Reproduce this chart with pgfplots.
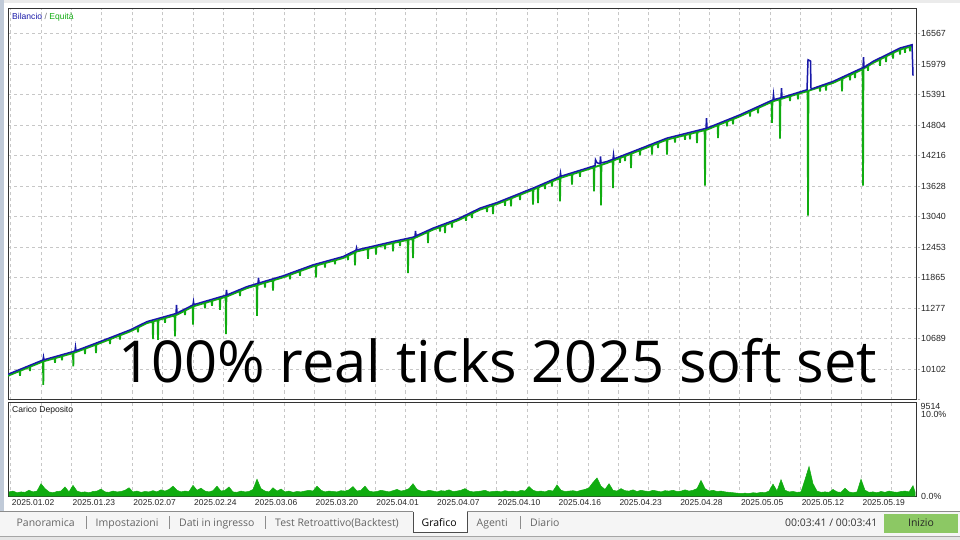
\documentclass[border=0pt]{standalone}
\usepackage{pgfplots}
\pgfplotsset{compat=1.18}
\usepackage{fontspec}
\setmainfont{Liberation Sans}
\newfontfamily\opensans{Open Sans}
\definecolor{bal}{RGB}{24,24,168}
\definecolor{eq}{RGB}{16,172,16}
\definecolor{tabtxt}{RGB}{100,100,100}
\definecolor{btn}{RGB}{140,200,100}
\definecolor{sidestrip}{RGB}{192,202,216}
\pgfplotsset{
  mtpanel/.style={
    scale only axis, width=908bp,
    xmin=8, xmax=916,
    axis line style={draw=black!80, line width=1bp},
    xtick={10.7,41.08,71.46,101.84,132.22,162.6,192.98,223.36,253.74,284.12,314.5,344.88,375.26,405.64,436.02,466.4,496.78,527.16,557.54,587.92,618.3,648.68,679.06,709.44,739.82,770.2,800.58,830.96,861.34,891.72},
    xmajorgrids,
    grid style={draw=black!22, dash pattern=on 3bp off 3bp, line width=0.7bp},
    tick align=outside,
    ytick pos=right, yticklabel pos=right,
    xtick pos=bottom,
    xtick style={draw=none},
    major tick length=4bp,
    scaled ticks=false,
    yticklabel style={font=\fontsize{8.9}{10}\selectfont, inner sep=1bp, text=black!85},
  }
}
\begin{document}
\begin{tikzpicture}
\begin{scope}[x=1bp,y=-1bp]
\fill[white] (0,0) rectangle (960,540);
\path[use as bounding box] (0,0) rectangle (960,540);
\fill[black!8] (0,0) rectangle (960,3);
\fill[sidestrip] (0,0) rectangle (4,511);
% tab bar
\fill[black!4] (0,512) rectangle (960,536);
\fill[black!10] (0,536) rectangle (960,540);
\draw[black!35, line width=0.8bp] (0,536) -- (960,536);
\draw[black!45, line width=1bp] (0,511.5) -- (413,511.5);
\draw[black!45, line width=1bp] (467,511.5) -- (960,511.5);
\fill[white] (413,511.5) rectangle (467,532);
\draw[black!70, line width=1bp] (413,511.5) -- (413,532) -- (467,532) -- (467,511.5);
\foreach \xx in {86,169.5,265.7,520.7} \draw[black!45, line width=0.8bp] (\xx,516) -- (\xx,529);
\begin{scope}[every node/.style={anchor=base west, inner sep=0, font=\opensans\fontsize{10.5}{12}\selectfont}]
\node[text=tabtxt] at (16.5,526) {Panoramica};
\node[text=tabtxt] at (95.5,526) {Impostazioni};
\node[text=tabtxt] at (179,526) {Dati in ingresso};
\node[text=tabtxt] at (275,526) {Test Retroattivo(Backtest)};
\node[text=black] at (421.5,526) {Grafico};
\node[text=tabtxt] at (476.5,526) {Agenti};
\node[text=tabtxt] at (530,526) {Diario};
\node[text=black!80] at (785,526) {00:03:41 / 00:03:41};
\end{scope}
\fill[btn] (884,513.5) rectangle (958,532.5);
\node[anchor=base, inner sep=0, font=\opensans\fontsize{10.5}{12}\selectfont, text=black!85] at (921,526.5) {Inizio};
\end{scope}

% ---------- main panel: balance / equity ----------
\begin{axis}[mtpanel,
  at={(8bp,-9bp)}, anchor=north west, height=390.5bp,
  ymin=9514, ymax=17045,
  ymajorgrids,
  xticklabel={\relax},
  ytick style={draw=black!30, dash pattern=on 2bp off 1.5bp, line width=0.7bp},
  ytick={9514,10102,10689,11277,11865,12453,13040,13628,14216,14804,15391,15979,16567},
  yticklabels={{},10102,10689,11277,11865,12453,13040,13628,14216,14804,15391,15979,16567},
]
\addplot[eq, line width=1.8bp, yshift=-1.5bp] table {
x y
8 10000
19.6 10092
20 10000
20.4 10098
29.6 10171
30 10090
30.4 10177
43 10276
43.3 9827
43.6 10280
54.6 10338
55 10250
55.4 10342
61.6 10376
62 10300
62.4 10380
73 10437
73.3 10180
73.6 10441
84.6 10520
85 10420
85.4 10526
95.6 10598
96 10437
96.4 10604
100 10630
109.6 10702
110 10610
110.4 10708
119.6 10777
120 10700
120.4 10783
130 10855
137.6 10927
138 10840
138.4 10935
147 11016
152.6 11046
153 10707
153.4 11050
157.6 11073
158 10695
158.4 11077
164.6 11111
165 11020
165.4 11115
174.6 11164
175 10759
175.4 11169
177 11178
184.6 11254
185 11170
185.4 11262
192.6 11334
193 10985
193.4 11340
204.6 11404
205 11300
205.4 11408
211.6 11444
212 11350
212.4 11448
219.6 11489
220 11274
220.4 11493
225.6 11522
226 10803
226.4 11528
227 11531
239.6 11632
240 11540
240.4 11638
247 11691
256.6 11746
257 11158
257.4 11750
264.6 11793
265 11700
265.4 11797
272.6 11838
273 11641
273.4 11842
283 11898
289.6 11944
290 11860
290.4 11950
299.6 12015
300 11930
300.4 12021
313 12110
315.6 12124
316 11898
316.4 12128
324.6 12172
325 12090
325.4 12176
334.6 12225
335 12150
335.4 12229
343 12270
347.6 12312
348 12230
348.4 12320
354.6 12376
355 12129
355.4 12384
357 12399
367.6 12446
368 12258
368.4 12450
375.6 12482
376 12336
376.4 12486
384.6 12522
385 12440
385.4 12526
392.6 12558
393 12399
393.4 12562
399.6 12587
400 12500
400.4 12591
407.6 12621
408 11981
408.4 12625
412.6 12642
413 12270
413.4 12648
427.6 12771
428 12560
428.4 12779
433 12818
439.6 12865
440 12780
440.4 12871
444.6 12901
445 12753
445.4 12907
451.6 12952
452 12860
452.4 12958
458 12998
465.6 13069
466 12990
466.4 13077
471.6 13125
472 13040
472.4 13133
480 13204
486.6 13245
487 13160
487.4 13251
492.6 13284
493 13119
493.4 13290
497 13312
504.6 13371
505 13280
505.4 13377
510.6 13417
511 13268
511.4 13423
519.6 13487
520 13390
520.4 13493
532.6 13587
533 13301
533.4 13593
537.6 13628
538 13332
538.4 13634
544.6 13687
545 13600
545.4 13693
551.6 13745
552 13650
552.4 13751
559.6 13811
560 13364
560.4 13816
571.6 13884
572 13687
572.4 13888
579.6 13932
580 13840
580.4 13936
587 13976
593.6 14018
594 13557
594.4 14024
600.6 14062
601 13287
601.4 14068
607 14104
612.6 14146
613 13621
613.4 14152
619.6 14197
620 14110
620.4 14203
624.6 14235
625 14140
625.4 14241
630.6 14279
631 14007
631.4 14285
633 14297
639.6 14347
640 14250
640.4 14353
651.6 14438
652 14266
652.4 14444
657.6 14484
658 14390
658.4 14490
666.6 14552
667 14266
667.4 14557
674.6 14591
675 14500
675.4 14595
684.6 14639
685 14550
685.4 14643
689.6 14663
690 14560
690.4 14667
696.6 14698
697 14490
697.4 14702
704.6 14736
705 13667
705.4 14740
707 14748
717.6 14831
718 14586
718.4 14837
726.6 14901
727 14810
727.4 14907
732.6 14948
733 14850
733.4 14954
740 15005
749.6 15090
750 15000
750.4 15096
757.6 15160
758 15060
758.4 15166
771.6 15282
772 14876
772.4 15288
773 15294
779.6 15332
780 14574
780.4 15336
789.6 15389
790 15300
790.4 15393
797.6 15435
798 15330
798.4 15439
807 15487
807.6 15491
808 13088
808.4 15497
819.6 15566
820 15480
820.4 15570
825.6 15603
826 15500
826.4 15607
833 15648
841.6 15725
842 15487
842.4 15731
849.6 15796
850 15700
850.4 15802
854.6 15841
855 15740
855.4 15847
862 15906
862.6 15913
863 13667
863.4 15922
867.6 15973
868 15880
868.4 15980
873 16034
879.6 16097
880 15980
880.4 16105
885.6 16155
886 16050
886.4 16163
892.6 16222
893 16120
893.4 16230
899.6 16288
900 16196
900.4 16294
904.6 16317
905 16230
905.4 16321
909.6 16343
910 16260
910.4 16347
912 16356
};
\addplot[bal, line width=1.5bp] table {
x y
8 10000
43 10276
43.5 10334
44 10280
73 10437
75 10452
75.5 10527
76 10455
100 10630
130 10855
147 11016
176 11172
176.5 11338
177 11180
193 11338
193.5 11402
194 11344
226 11525
226.5 11627
227 11531
247 11691
258 11755
258.5 11865
259 11760
283 11898
313 12110
343 12270
356 12392
356.5 12438
357 12399
393 12560
413 12644
415 12661
415.5 12766
416 12670
433 12818
458 12998
480 13204
497 13312
533 13590
560 13814
560.5 13880
561 13820
587 13976
595 14025
595.5 14136
597 14080
600 14060
600.5 14200
601 14075
607 14104
613 14148
613.5 14233
614 14155
633 14297
667 14555
706 14743
706.5 14941
707 14748
740 15005
773 15294
773.5 15391
774 15298
781 15334
781.5 15520
782 15340
807 15487
808 16066
810.5 16040
811 15500
833 15648
862 15906
863 15910
863.5 16118
864 15920
873 16034
900 16292
912 16356
913 15758
};
\end{axis}

% ---------- lower panel: Carico Deposito ----------
\begin{axis}[mtpanel,
  at={(8bp,-402bp)}, anchor=north west, height=94bp,
  ymin=0, ymax=11.46,
  ytick={0,10}, yticklabels={0.0\%,10.0\%},
  ytick style={draw=none},
  xticklabels={{},2025.01.02,{},2025.01.23,{},2025.02.07,{},2025.02.24,{},2025.03.06,{},2025.03.20,{},2025.04.01,{},2025.04.07,{},2025.04.10,{},2025.04.16,{},2025.04.23,{},2025.04.28,{},2025.05.05,{},2025.05.12,{},2025.05.19},
  xticklabel style={font=\fontsize{8.5}{10}\selectfont, xshift=-8bp, yshift=2bp, inner sep=1bp, text=black!85},
]
\addplot[draw=eq, fill=eq, line width=0.5bp] table {
x y
9 0.5
13 0.6
17 0.4
21 0.5
25 0.45
29 0.7
33 0.5
37 0.6
41 1.5
45 0.9
49 0.5
53 0.4
57 0.55
61 0.6
65 1.1
69 0.5
73 1.3
77 0.6
81 0.45
85 0.5
89 0.4
93 0.55
97 0.6
101 0.85
105 0.5
109 0.45
113 0.6
117 0.5
121 0.55
125 0.7
129 1.0
133 0.5
137 0.6
141 0.45
145 0.55
149 0.5
153 0.65
157 0.5
161 0.75
165 0.6
169 0.8
173 1.2
177 0.7
181 0.5
185 0.6
189 0.55
193 1.3
197 0.7
201 0.95
205 0.6
209 0.5
213 0.65
217 1.2
221 0.6
225 0.7
229 1.1
233 0.5
237 0.45
241 0.6
245 0.5
249 0.55
253 0.8
257 2.05
261 0.9
265 0.6
269 0.5
273 1.0
277 0.6
281 0.85
285 0.5
289 0.6
293 0.45
297 0.55
301 0.5
305 0.6
309 0.7
313 0.6
317 1.2
321 0.7
325 0.5
329 0.6
333 0.55
337 0.5
341 0.65
345 0.6
349 0.75
353 1.15
357 0.6
361 0.7
365 1.2
369 0.6
373 0.5
377 0.55
381 0.7
385 0.6
389 0.5
393 0.65
397 0.8
401 0.6
405 0.7
409 0.9
413 1.5
417 0.8
421 0.6
425 0.55
429 0.7
433 0.6
437 0.5
441 0.65
445 0.6
449 0.75
453 0.55
457 0.6
461 0.7
465 0.9
469 0.6
473 0.5
477 0.55
481 0.6
485 0.7
489 0.5
493 0.55
497 0.6
501 0.5
505 0.65
509 0.55
513 0.6
517 0.5
521 0.7
525 0.6
529 1.15
533 0.7
537 0.55
541 0.6
545 0.5
549 0.7
553 0.6
557 1.35
561 0.7
565 0.55
569 0.6
573 0.65
577 0.55
581 0.7
585 0.8
589 1.0
593 1.65
597 2.2
601 1.2
605 0.8
609 1.5
613 0.7
617 0.6
621 0.9
625 0.65
629 0.6
633 0.75
637 0.55
641 0.7
645 0.6
649 0.55
653 0.7
657 0.6
661 0.5
665 0.65
669 0.6
673 0.7
677 0.55
681 0.6
685 0.75
689 0.6
693 0.7
697 0.9
701 1.9
705 0.9
709 0.6
713 0.7
717 0.55
721 0.6
725 0.5
729 0.45
733 0.4
737 0.35
741 0.3
745 0.35
749 0.3
753 0.4
757 0.35
761 0.45
765 0.4
769 0.6
773 1.45
777 0.6
781 2.0
785 0.7
789 0.5
793 0.55
797 0.45
801 0.5
805 2.0
809 3.6
813 1.5
817 0.6
821 0.45
825 0.5
829 0.45
833 0.8
837 0.5
841 0.45
845 0.95
849 0.5
853 0.4
857 0.5
861 2.05
865 0.7
869 0.45
873 0.5
877 0.4
881 0.55
885 0.45
889 0.6
893 0.5
897 0.45
901 0.55
905 0.6
909 0.5
913 1.26
915 0.5
} \closedcycle;
\end{axis}

\begin{scope}[x=1bp,y=-1bp]
\node[anchor=base west, inner sep=0, font=\fontsize{8.9}{10}\selectfont, text=black!85] at (920.5,409) {9514};
\node[anchor=base west, inner sep=0, font=\fontsize{8.6}{10}\selectfont] at (12,19.5) {\textcolor{bal}{Bilancio} \textcolor{black!55}{/} \textcolor{eq}{Equità}};
\node[anchor=base west, inner sep=0, font=\fontsize{8.6}{10}\selectfont, text=black!90] at (12,412.5) {Carico Deposito};
\node[anchor=base west, inner sep=0, font=\opensans\fontsize{58}{60}\selectfont] at (118,383) {100\% real ticks 2025 soft set};
\end{scope}
\end{tikzpicture}
\end{document}
